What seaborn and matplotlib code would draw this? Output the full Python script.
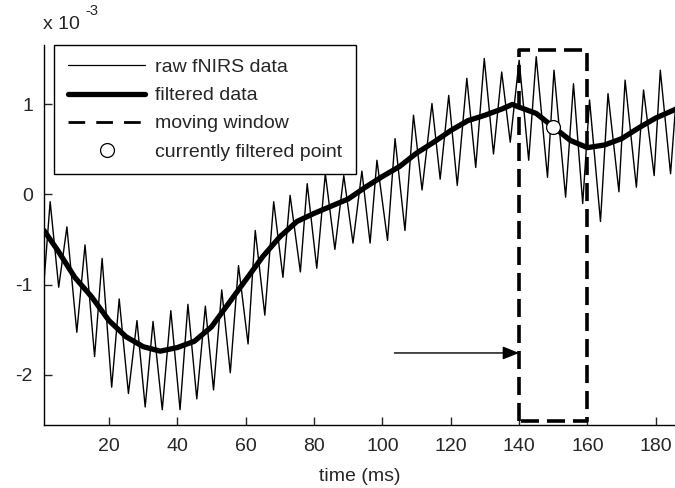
import matplotlib
matplotlib.use("Agg")
import matplotlib.pyplot as plt
import seaborn as sns
from matplotlib.lines import Line2D

# raw fNIRS signal (x 1e-3), peaks and troughs
raw_time = [
    1.0, 2.8, 5.3, 7.7, 10.6, 13.0, 15.8, 18.0, 20.8, 23.0,
    25.7, 28.2, 30.6, 32.9, 35.6, 38.1, 40.8, 43.1, 45.7, 48.2,
    50.6, 53.0, 55.5, 57.9, 60.7, 62.8, 65.6, 68.2, 70.9, 73.0,
    76.0, 78.0, 80.8, 83.3, 86.1, 88.7, 91.4, 94.0, 96.4, 98.4,
    101.5, 103.7, 106.6, 109.1, 111.6, 114.5, 116.9, 119.4, 121.9, 124.7,
    127.3, 129.8, 132.5, 134.9, 137.4, 140.0, 142.8, 145.0, 148.3, 150.2,
    153.6, 155.9, 158.6, 160.6, 163.8, 166.0, 169.2, 171.0, 174.3, 176.4,
    179.5, 181.3, 184.3, 186.5,
]
raw_value = [
    -0.97, -0.08, -1.03, -0.36, -1.53, -0.56, -1.80, -0.71, -2.14, -1.16,
    -2.21, -1.40, -2.36, -1.41, -2.39, -1.29, -2.39, -1.22, -2.27, -1.24,
    -2.17, -1.06, -1.98, -0.79, -1.66, -0.40, -1.34, -0.08, -0.92, -0.01,
    -0.86, 0.12, -0.82, 0.23, -0.61, 0.21, -0.54, 0.26, -0.54, 0.38,
    -0.51, 0.62, -0.40, 0.88, 0.05, 1.01, 0.17, 1.10, 0.10, 1.29,
    0.30, 1.51, 0.45, 1.36, 0.58, 1.49, 0.38, 1.53, 0.19, 1.38,
    -0.03, 1.23, -0.10, 1.05, -0.30, 1.12, 0.03, 1.27, 0.08, 1.16,
    0.21, 1.38, 0.23, 1.35,
]

# filtered signal (x 1e-3)
filt_time = [
    1, 5, 10, 15, 20, 25, 30, 35, 40, 45, 50, 55, 60, 65, 70, 75, 80, 85,
    90, 95, 100, 105, 110, 115, 120, 125, 130, 135, 138, 140, 145, 150,
    153, 155, 160, 165, 170, 175, 180, 186,
]
filt_value = [
    -0.40, -0.62, -0.92, -1.14, -1.40, -1.58, -1.69, -1.74, -1.70, -1.63,
    -1.47, -1.21, -0.95, -0.69, -0.47, -0.30, -0.21, -0.13, -0.05, 0.08,
    0.20, 0.31, 0.46, 0.58, 0.71, 0.82, 0.88, 0.95, 1.00, 0.97,
    0.90, 0.75, 0.66, 0.60, 0.52, 0.55, 0.62, 0.74, 0.85, 0.95,
]

# moving window and the point being filtered
window_start, window_end = 140, 160
window_low, window_high = -2.52, 1.61
point_time, point_value = 150, 0.75
arrow_from, arrow_y = 103.5, -1.76

x_ticks = [20, 40, 60, 80, 100, 120, 140, 160, 180]
y_ticks = [-2, -1, 0, 1]

sns.set_style("ticks")
plt.rcParams["font.family"] = ["Liberation Sans", "DejaVu Sans"]
plt.rcParams["axes.unicode_minus"] = False

fig = plt.figure(figsize=(6.75, 4.88), dpi=100)
ax = fig.add_axes([44 / 675, 1 - 425 / 488, 631 / 675, 380 / 488])

sns.lineplot(x=raw_time, y=raw_value, color="black", linewidth=1.0,
             estimator=None, sort=False, ax=ax)
sns.lineplot(x=filt_time, y=filt_value, color="black", linewidth=3.8,
             estimator=None, sort=False, ax=ax)

ax.plot([window_start, window_start, window_end, window_end, window_start],
        [window_low, window_high, window_high, window_low, window_low],
        color="black", linewidth=2.6, linestyle=(0, (5, 2.2)))

ax.plot([point_time], [point_value], marker="o", markersize=10,
        markerfacecolor="white", markeredgecolor="black",
        markeredgewidth=0.9, linestyle="none")

ax.annotate("", xy=(window_start, arrow_y), xytext=(arrow_from, arrow_y),
            arrowprops=dict(arrowstyle="-|>,head_length=1.0,head_width=0.4",
                            color="black", lw=1.0, shrinkA=0, shrinkB=0))

ax.set_xlim(1, 185.6)
ax.set_ylim(-2.56, 1.66)
ax.set_xticks(x_ticks)
ax.set_yticks(y_ticks)
ax.tick_params(direction="in", length=6, width=1, labelsize=14, pad=9.5)
ax.tick_params(axis="y", pad=8)
ax.set_xlabel("time (ms)", fontsize=14, labelpad=9)
ax.set_ylabel("")
sns.despine(ax=ax)
for s in ["left", "bottom"]:
    ax.spines[s].set_linewidth(1.0)
    ax.spines[s].set_color("black")

ax.text(-0.002, 1.053, "x 10", transform=ax.transAxes,
        fontsize=14, ha="left", va="center")
ax.text(0.066, 1.09, "-3", transform=ax.transAxes,
        fontsize=10.5, ha="left", va="center")

handles = [
    Line2D([], [], color="black", linewidth=0.9),
    Line2D([], [], color="black", linewidth=3.8),
    Line2D([], [], color="black", linewidth=2.0, linestyle=(0, (6, 4))),
    Line2D([], [], color="black", marker="o", markersize=10,
           markerfacecolor="white", markeredgewidth=0.9, linestyle="none"),
]
labels = ["raw fNIRS data", "filtered data", "moving window",
          "currently filtered point"]
leg = ax.legend(handles, labels, loc="upper left", bbox_to_anchor=(0.016, 1.0),
                borderaxespad=0, fontsize=14, handlelength=4.0,
                handletextpad=0.5, labelspacing=0.54, borderpad=0.7,
                fancybox=False, framealpha=1, edgecolor="black")
leg.get_frame().set_linewidth(1.0)

fig.savefig("out.png", dpi=100)
